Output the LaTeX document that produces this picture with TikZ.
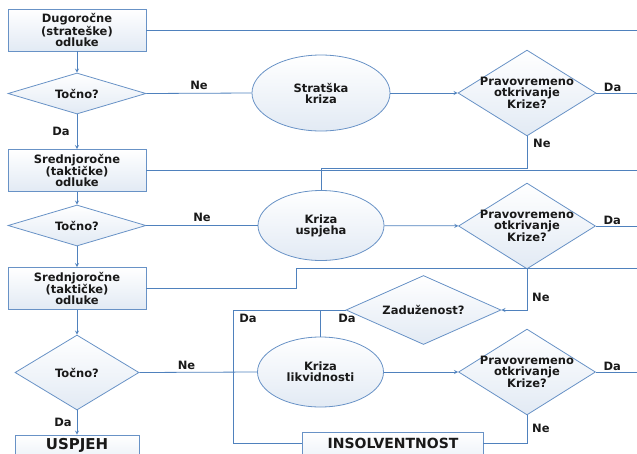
\documentclass[tikz,border=0pt]{standalone}
\usepackage{fontspec}
\setmainfont{DejaVu Sans}
\usetikzlibrary{shapes.geometric}
\definecolor{flowblue}{RGB}{79,129,189}
\definecolor{edgeblue}{RGB}{104,146,198}
\definecolor{shadeblue}{RGB}{226,234,244}
\tikzset{
	every node/.style={font=\fontsize{11.5}{11}\selectfont\bfseries, align=center, text=black!90},
	stepbox/.style={rectangle, draw=edgeblue, thick, top color=white, bottom color=shadeblue, minimum width=138pt, minimum height=42pt, inner sep=0pt},
	endbox/.style={stepbox, font=\fontsize{15}{15}\selectfont\bfseries},
	decide/.style={diamond, draw=edgeblue, thick, top color=white, bottom color=shadeblue, inner sep=-10pt},
	crisis/.style={ellipse, draw=edgeblue, thick, top color=white, bottom color=shadeblue, minimum width=126pt, minimum height=70pt, inner sep=0pt},
	flow/.style={draw=flowblue, thick},
	tag/.style={inner sep=1pt}
}
\begin{document}
\begin{tikzpicture}[x=1pt, y=-1pt, >=stealth]
	\useasboundingbox (0,0) rectangle (637,453);
	\clip (0,0) rectangle (637,453);
	\coordinate (rim) at (637,0);
	% left column
	\node[stepbox] (box1) at (77,30) {Dugoročne\\(strateške)\\odluke};
	\node[decide, minimum width=138pt, minimum height=41pt] (dia1) at (77,93.5) {Točno?};
	\node[stepbox] (box2) at (77,170.5) {Srednjoročne\\(taktičke)\\odluke};
	\node[decide, minimum width=138pt, minimum height=41pt] (dia2) at (77,225.5) {Točno?};
	\node[stepbox] (box3) at (77,288.5) {Srednjoročne\\(taktičke)\\odluke};
	\node[decide, minimum width=124pt, minimum height=75pt] (dia3) at (77,372.5) {Točno?};
	\node[endbox, minimum width=124pt, minimum height=36pt] (final) at (77,453) {};
	\node[font=\fontsize{15}{15}\selectfont\bfseries] (finaltext) at (77,445) {USPJEH};
	% crises
	\node[crisis, minimum width=138pt, minimum height=76pt] (crisis1) at (321,93) {Stratška\\kriza};
	\node[crisis] (crisis2) at (321,225.5) {Kriza\\uspjeha};
	\node[crisis] (crisis3) at (320.5,372) {Kriza\\likvidnosti};
	% checks
	\node[decide, minimum width=138pt, minimum height=71pt] (check1) at (527,93) {Pravovremeno\\otkrivanje\\Krize?};
	\node[decide, minimum width=137pt, minimum height=75pt] (check2) at (527,226) {Pravovremeno\\otkrivanje\\Krize?};
	\node[decide, minimum width=137pt, minimum height=76pt] (check3) at (527,372) {Pravovremeno\\otkrivanje\\Krize?};
	\node[decide, minimum width=155pt, minimum height=69pt] (zad) at (423.5,310) {Zaduženost?};
	\node[endbox, minimum width=181pt, minimum height=44pt, font=\fontsize{14}{14}\selectfont\bfseries] (insol) at (392.5,454) {};
	\node[font=\fontsize{14}{14}\selectfont\bfseries] (insoltext) at (393,443) {INSOLVENTNOST};
	% connectors
	\draw[flow,->] (box1) -- (dia1);
	\draw[flow,->] (dia1) -- (box2) node[tag, midway, left, xshift=-6pt] (da1) {Da};
	\draw[flow,->] (box2) -- (dia2);
	\draw[flow,->] (dia2) -- (box3);
	\draw[flow,->] (box3) -- (dia3);
	\draw[flow,->] (dia3.south) -- (final.north) node[tag, midway, left, xshift=-4pt] (da2) {Da};
	\draw[flow] (box1.east) -- (box1.east -| rim);
	\draw[flow] (box2.east) -- (box2.east -| rim);
	\draw[flow] (box3.east) -- ++(150,0) -- ++(0,-20) -- ++(341,0);
	\draw[flow] (dia1.east) -- (crisis1.west) node[tag, midway, above, yshift=2pt] (ne1) {Ne};
	\draw[flow] (dia2.east) -- (crisis2.west) node[tag, midway, above, yshift=2pt] (ne2) {Ne};
	\draw[flow] (dia3.east) -- (crisis3.west) node[tag, pos=0.4, above, yshift=1pt] (ne3) {Ne};
	\draw[flow,->] (crisis1) -- (check1);
	\draw[flow,->] (crisis2) -- (check2);
	\draw[flow,->] (crisis3) -- (check3);
	\draw[flow] (check1.east) -- (check1.east -| rim) node[tag, pos=0.4, above] (da3) {Da};
	\draw[flow] (check2.east) -- (check2.east -| rim) node[tag, pos=0.4, above] (da4) {Da};
	\draw[flow] (check3.east) -- (check3.east -| rim) node[tag, pos=0.4, above] (da5) {Da};
	\draw[flow] (check1.south) -- ++(0,32) -| (crisis2.north);
	\node[tag, right] (ne4) at (532,143) {Ne};
	\draw[flow,->] (check2.south) |- (zad.east);
	\node[tag, right] (ne5) at (531,297) {Ne};
	\draw[flow] (check3.south) |- (insol.east |- insoltext);
	\node[tag, right] (ne6) at (531,428) {Ne};
	\draw[flow] (zad.west) -- (233.5,310) |- (insol.west |- insoltext);
	\draw[flow] (zad.west -| crisis3.north) -- (crisis3.north);
	\node[tag] (da6) at (248,318) {Da};
	\node[tag] (da7) at (347,318) {Da};
\end{tikzpicture}
\end{document}
